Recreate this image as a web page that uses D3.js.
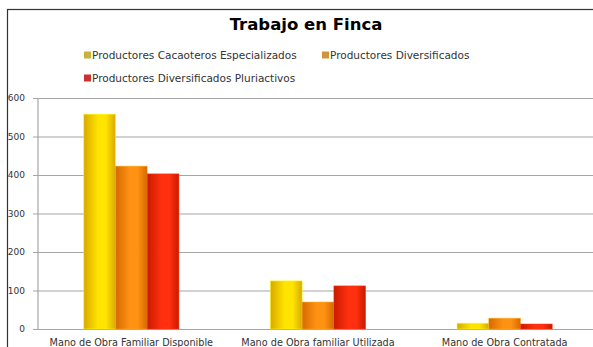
<!DOCTYPE html>
<html>
<head>
<meta charset="utf-8">
<script src="https://cdn.jsdelivr.net/npm/d3@7"></script>
<style>
  html, body { margin: 0; padding: 0; background: #fff; overflow: hidden; }
  svg { display: block; }
  text { font-family: "DejaVu Sans", sans-serif; }
</style>
</head>
<body>
<svg id="chart" width="593" height="347"></svg>
<script>
// Categories and series
const categories = [
  "Mano de Obra Familiar Disponible",
  "Mano de Obra familiar Utilizada",
  "Mano de Obra Contratada"
];
const seriesNames = [
  "Productores Cacaoteros Especializados",
  "Productores Diversificados",
  "Productores Diversificados Pluriactivos"
];
const cacaoteros = [558, 125, 15];
const diversificados = [423, 70, 28];
const pluriactivos = [403, 112, 13];
const yTicks = [0, 100, 200, 300, 400, 500, 600];

const seriesValues = [cacaoteros, diversificados, pluriactivos];
const palette = [
  { edge: "#d9a900", mid: "#ffe400", bottom: "#c99a00", legend: "#c9b13c" },
  { edge: "#d56a00", mid: "#ff9212", bottom: "#c06000", legend: "#d1923e" },
  { edge: "#c81a00", mid: "#ff3010", bottom: "#b81800", legend: "#c83232" }
];

const svg = d3.select("#chart");

// Chart frame (extends past the right and bottom edges)
svg.append("rect")
  .attr("x", 7.5).attr("y", 9.5)
  .attr("width", 620).attr("height", 360)
  .attr("fill", "#fff")
  .attr("stroke", "#333").attr("stroke-width", 1.2);

// Gradients: horizontal sheen for each bar
const defs = svg.append("defs");
palette.forEach((p, i) => {
  const g = defs.append("linearGradient").attr("id", "bar" + i)
    .attr("x1", "0%").attr("x2", "100%").attr("y1", "0%").attr("y2", "0%");
  g.append("stop").attr("offset", "0%").attr("stop-color", p.edge);
  g.append("stop").attr("offset", "45%").attr("stop-color", p.mid);
  g.append("stop").attr("offset", "70%").attr("stop-color", p.mid);
  g.append("stop").attr("offset", "100%").attr("stop-color", p.edge);
});

const plot = { left: 38, right: 598, top: 98, bottom: 329 };

const x0 = d3.scaleBand().domain(categories)
  .range([plot.left, plot.right]).paddingInner(0.49).paddingOuter(0.245);
const x1 = d3.scaleBand().domain(d3.range(seriesNames.length))
  .range([0, x0.bandwidth()]).padding(0);
const y = d3.scaleLinear().domain([0, 600]).range([plot.bottom, plot.top]);

// Gridlines and y axis
const yAxis = d3.axisLeft(y).tickValues(yTicks)
  .tickSize(-(plot.right - plot.left)).tickPadding(13);
const yg = svg.append("g").attr("transform", `translate(${plot.left},0)`).call(yAxis);
yg.select(".domain").remove();
yg.selectAll(".tick line").attr("stroke", "#a6a6a6").attr("stroke-width", 1.2).attr("x1", -5);
yg.selectAll(".tick text").attr("fill", "#333").attr("font-size", 9)
  .attr("font-family", "Liberation Sans, sans-serif");

svg.append("line")
  .attr("x1", plot.left).attr("x2", plot.left)
  .attr("y1", plot.top).attr("y2", plot.bottom)
  .attr("stroke", "#a6a6a6").attr("stroke-width", 1.2);

// Bars
const groups = svg.append("g").selectAll("g")
  .data(categories).join("g")
  .attr("transform", d => `translate(${x0(d)},0)`);

groups.selectAll("rect")
  .data((d, ci) => seriesValues.map((vals, si) => ({ si, v: vals[ci] })))
  .join("rect")
  .attr("x", d => x1(d.si))
  .attr("y", d => y(d.v))
  .attr("width", x1.bandwidth())
  .attr("height", d => y(0) - y(d.v))
  .attr("fill", d => `url(#bar${d.si})`)
  .attr("stroke", d => d3.color(palette[d.si].mid).brighter(0.4))
  .attr("stroke-opacity", 0.6)
  .attr("stroke-width", 0.8);

// Category labels
const xAxis = d3.axisBottom(x0).tickSize(0).tickPadding(10);
const xg = svg.append("g").attr("transform", `translate(0,${plot.bottom})`).call(xAxis);
xg.select(".domain").remove();
xg.selectAll(".tick text").attr("fill", "#333").attr("font-size", 9.7)
  .attr("font-family", "DejaVu Sans, sans-serif");

// Title
svg.append("text")
  .attr("x", 306).attr("y", 30)
  .attr("text-anchor", "middle")
  .attr("font-size", 16.5).attr("font-weight", "bold").attr("fill", "#000")
  .text("Trabajo en Finca");

// Legend
const legendPos = [[84, 55], [322, 55], [84, 78]];
const lg = svg.append("g").selectAll("g")
  .data(seriesNames).join("g")
  .attr("transform", (d, i) => `translate(${legendPos[i][0]},${legendPos[i][1]})`);
lg.append("rect").attr("x", 0).attr("y", -3.5).attr("width", 7).attr("height", 7)
  .attr("fill", (d, i) => palette[i].legend);
lg.append("text").attr("x", 8).attr("y", 0).attr("dy", "0.35em")
  .attr("font-size", 10.5).attr("fill", "#333")
  .text(d => d);
</script>
</body>
</html>
